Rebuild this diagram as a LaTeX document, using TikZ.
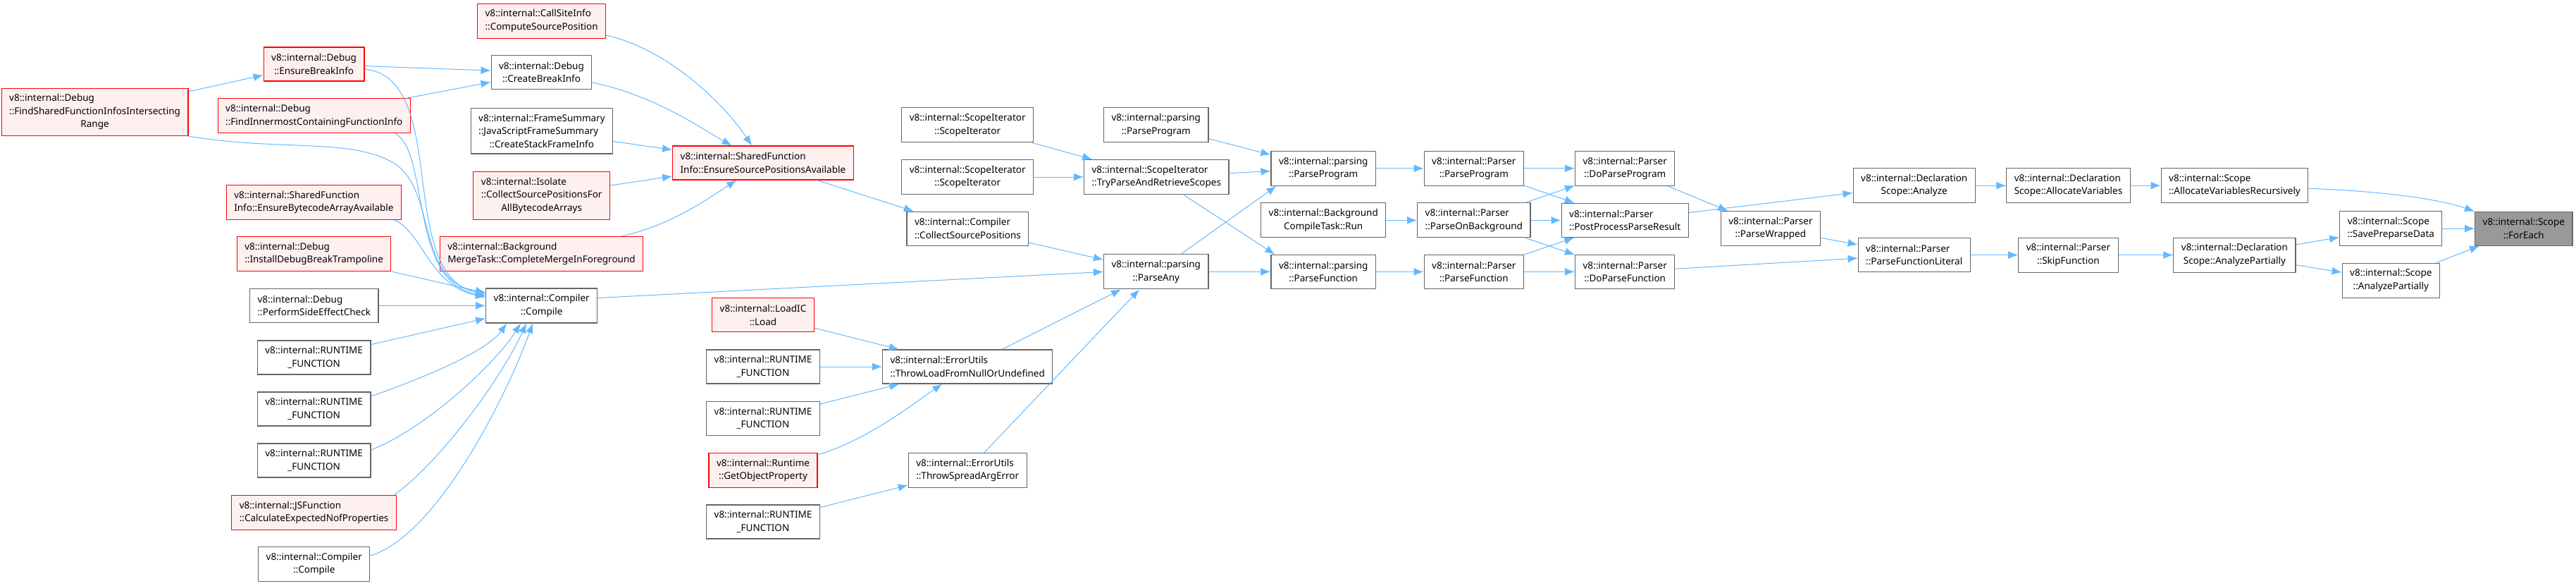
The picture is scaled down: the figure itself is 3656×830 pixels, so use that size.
\documentclass[tikz,border=0pt]{standalone}
\usepackage{fontspec}
\setmainfont{Noto Sans}
\usetikzlibrary{arrows.meta}
\definecolor{edgeblue}{HTML}{63B8FF}
\definecolor{boxgray}{HTML}{666666}
\definecolor{rootgray}{HTML}{999999}
\definecolor{cutred}{HTML}{FF0000}
\definecolor{cutfill}{HTML}{FFF0F0}
\newcommand\midline[1]{\hspace*{\fill}#1\hspace*{\fill}}
\tikzset{fn/.style={draw=boxgray,line width=1.1pt,fill=white,align=left,inner xsep=11pt,inner ysep=8.5pt,minimum height=48pt,font=\fontsize{13.5}{18.5}\selectfont},cut/.style={fn,draw=cutred,fill=cutfill},root/.style={fn,fill=rootgray},arr/.style={-{Latex[length=14pt,width=11pt]},line width=1pt,edgeblue}}

\begin{document}
\begin{tikzpicture}[x=1pt,y=-1pt]
\useasboundingbox (0,0) rectangle (3656,830);
% left part: callers of Compiler::Compile
\node[cut] (fsfi) at (134.6,158.8) {v8::internal::Debug\\::FindSharedFunctionInfosIntersecting\\\midline{Range}};
\node[cut] (ebi) at (445.6,91) {v8::internal::Debug\\\midline{::EnsureBreakInfo}};
\node[cut] (fifi) at (445.8,164.4) {v8::internal::Debug\\\midline{::FindInnermostContainingFunctionInfo}};
\node[cut] (ebaa) at (445.4,287) {v8::internal::SharedFunction\\\midline{Info::EnsureBytecodeArrayAvailable}};
\node[cut] (idbt) at (445.6,360) {v8::internal::Debug\\\midline{::InstallDebugBreakTrampoline}};
\node[fn] (psec) at (445.8,433.3) {v8::internal::Debug\\\midline{::PerformSideEffectCheck}};
\node[fn] (rtf1) at (445.6,507) {v8::internal::RUNTIME\\\midline{\_FUNCTION}};
\node[fn] (rtf2) at (445.6,580) {v8::internal::RUNTIME\\\midline{\_FUNCTION}};
\node[fn] (rtf3) at (445.6,653) {v8::internal::RUNTIME\\\midline{\_FUNCTION}};
\node[cut] (cenp) at (445.6,727) {v8::internal::JSFunction\\\midline{::CalculateExpectedNofProperties}};
\node[fn] (ccomp) at (445.8,800) {v8::internal::Compiler\\\midline{::Compile}};
\node[cut] (csip) at (768.6,29.6) {v8::internal::CallSiteInfo\\\midline{::ComputeSourcePosition}};
\node[fn] (cbi) at (768.5,102.7) {v8::internal::Debug\\\midline{::CreateBreakInfo}};
\node[fn] (csfi) at (768.9,185.8) {v8::internal::FrameSummary\\::JavaScriptFrameSummary\\\midline{::CreateStackFrameInfo}};
\node[cut] (cspa) at (768.7,277.4) {v8::internal::Isolate\\::CollectSourcePositionsFor\\\midline{AllBytecodeArrays}};
\node[cut] (cmif) at (768.5,360) {v8::internal::Background\\\midline{MergeTask::CompleteMergeInForeground}};
\node[fn] (compile) at (768.7,433.5) {v8::internal::Compiler\\\midline{::Compile}};
% middle part
\node[cut] (esp) at (1082.9,231) {v8::internal::SharedFunction\\\midline{Info::EnsureSourcePositionsAvailable}};
\node[cut] (lic) at (1083,446.8) {v8::internal::LoadIC\\\midline{::Load}};
\node[fn] (rtf4) at (1083,520) {v8::internal::RUNTIME\\\midline{\_FUNCTION}};
\node[fn] (rtf5) at (1083,593.5) {v8::internal::RUNTIME\\\midline{\_FUNCTION}};
\node[cut] (gop) at (1083,666.8) {v8::internal::Runtime\\\midline{::GetObjectProperty}};
\node[fn] (rtf6) at (1083,740) {v8::internal::RUNTIME\\\midline{\_FUNCTION}};
\node[fn] (si1) at (1373.2,177.4) {v8::internal::ScopeIterator\\\midline{::ScopeIterator}};
\node[fn] (si2) at (1373.2,251) {v8::internal::ScopeIterator\\\midline{::ScopeIterator}};
\node[fn] (csp) at (1373.4,324.2) {v8::internal::Compiler\\\midline{::CollectSourcePositions}};
\node[fn] (tlfn) at (1373.2,520) {v8::internal::ErrorUtils\\\midline{::ThrowLoadFromNullOrUndefined}};
\node[fn] (tsae) at (1373.2,666.8) {v8::internal::ErrorUtils\\\midline{::ThrowSpreadArgError}};
\node[fn] (ppa) at (1640.8,177.4) {v8::internal::parsing\\\midline{::ParseProgram}};
\node[fn] (tpars) at (1641.3,251) {v8::internal::ScopeIterator\\\midline{::TryParseAndRetrieveScopes}};
\node[fn] (pany) at (1640.8,385.4) {v8::internal::parsing\\\midline{::ParseAny}};
% parser chain
\node[fn] (ppb) at (1878.2,238.8) {v8::internal::parsing\\\midline{::ParseProgram}};
\node[fn] (bctr) at (1878.2,312.4) {v8::internal::Background\\\midline{CompileTask::Run}};
\node[fn] (pfun) at (1878.2,385.4) {v8::internal::parsing\\\midline{::ParseFunction}};
\node[fn] (prpp) at (2091.8,238.8) {v8::internal::Parser\\\midline{::ParseProgram}};
\node[fn] (pob) at (2091.8,312.4) {v8::internal::Parser\\\midline{::ParseOnBackground}};
\node[fn] (prpf) at (2091.8,385.4) {v8::internal::Parser\\\midline{::ParseFunction}};
\node[fn] (dpp) at (2306.2,238.8) {v8::internal::Parser\\\midline{::DoParseProgram}};
\node[fn] (pppr) at (2306.2,312.4) {v8::internal::Parser\\\midline{::PostProcessParseResult}};
\node[fn] (dpf) at (2306.2,385.4) {v8::internal::Parser\\\midline{::DoParseFunction}};
\node[fn] (pwrap) at (2512.9,324.2) {v8::internal::Parser\\\midline{::ParseWrapped}};
\node[fn] (dsan) at (2716.7,263.1) {v8::internal::Declaration\\\midline{Scope::Analyze}};
\node[fn] (pfl) at (2716.7,361.6) {v8::internal::Parser\\\midline{::ParseFunctionLiteral}};
\node[fn] (dsav) at (2935.5,263.1) {v8::internal::Declaration\\\midline{Scope::AllocateVariables}};
\node[fn] (skip) at (2935.4,361.6) {v8::internal::Parser\\\midline{::SkipFunction}};
\node[fn] (savr) at (3171.5,263.1) {v8::internal::Scope\\\midline{::AllocateVariablesRecursively}};
\node[fn] (dsap) at (3171.4,361.6) {v8::internal::Declaration\\\midline{Scope::AnalyzePartially}};
\node[fn] (spd) at (3393.3,324.2) {v8::internal::Scope\\\midline{::SavePreparseData}};
\node[fn] (sap) at (3393.3,397.6) {v8::internal::Scope\\\midline{::AnalyzePartially}};
\node[root] (forEach) at (3581.8,324.2) {v8::internal::Scope\\\midline{::ForEach}};
% edges into Compiler::Compile
\draw[arr] (fsfi)--(ebi); \draw[arr] (ebi)--(cbi); \draw[arr] (fifi)--(cbi);
\draw[arr] (fsfi.south east) .. controls (400,215) and (500,195) .. (560,232) .. controls (620,270) and (590,400) .. ([yshift=19pt]compile.west);
\draw[arr] ([yshift=-7pt]ebi.east) .. controls (640,110) and (560,390) .. ([yshift=16pt]compile.west);
\draw[arr] ([xshift=-22pt]fifi.south east) .. controls (610,215) and (580,400) .. ([yshift=14pt]compile.west);
\draw[arr] ([xshift=-10pt]ebaa.south east) .. controls (600,330) and (610,405) .. ([yshift=12pt]compile.west);
\draw[arr] (idbt)--(compile); \draw[arr] (psec)--(compile); \draw[arr] (rtf1)--(compile);
\draw[arr] ([yshift=18pt]rtf2.east) .. controls (590,540) and (690,500) .. ([xshift=30pt]compile.south west);
\draw[arr] ([yshift=15pt]rtf3.east) .. controls (600,610) and (700,520) .. ([xshift=50pt]compile.south west);
\draw[arr] ([xshift=-4pt]cenp.north east) .. controls (620,660) and (710,540) .. ([xshift=58pt]compile.south west);
\draw[arr] ([yshift=12pt]ccomp.east) .. controls (620,760) and (720,560) .. ([xshift=67pt]compile.south west);
% edges into EnsureSourcePositionsAvailable
\draw[arr] (csip) .. controls (950,70) and (1030,150) .. (esp);
\draw[arr] (cbi) .. controls (930,135) and (1000,185) .. (esp);
\draw[arr] (csfi)--(esp); \draw[arr] (cspa)--(esp);
\draw[arr] (cmif) .. controls (950,320) and (1000,285) .. (esp);
\draw[arr] (esp)--(csp);
\draw[arr] ([yshift=11pt]compile.east)--(pany.west);
% error utils
\draw[arr] (lic)--(tlfn); \draw[arr] (rtf4)--(tlfn); \draw[arr] (rtf5)--(tlfn);
\draw[arr] (gop) .. controls (1230,625) and (1300,570) .. (tlfn);
\draw[arr] (rtf6)--(tsae);
\draw[arr] (csp)--(pany); \draw[arr] (tlfn)--(pany); \draw[arr] (tsae)--(pany);
\draw[arr] (si1)--(tpars); \draw[arr] (si2)--(tpars);
\draw[arr] (ppa)--(ppb); \draw[arr] (tpars)--(ppb); \draw[arr] (tpars)--([xshift=6pt]pfun.north west);
\draw[arr] (pany)--([xshift=8pt]ppb.south west); \draw[arr] (pany)--(pfun);
% parser
\draw[arr] (ppb)--(prpp); \draw[arr] (bctr)--(pob); \draw[arr] (pfun)--(prpf);
\draw[arr] (prpp)--(dpp); \draw[arr] (prpp)--(pppr); \draw[arr] (pob)--(dpp); \draw[arr] (pob)--(pppr);
\draw[arr] (pob)--(dpf); \draw[arr] (prpf)--(pppr); \draw[arr] (prpf)--(dpf);
\draw[arr] (dpp)--(pwrap); \draw[arr] (pppr)--(dsan); \draw[arr] (dpf)--(pfl); \draw[arr] (pwrap)--(pfl);
\draw[arr] (dsan)--(dsav); \draw[arr] (pfl)--(skip); \draw[arr] (dsav)--(savr); \draw[arr] (skip)--(dsap);
\draw[arr] (dsap)--(spd); \draw[arr] (dsap)--(sap);
\draw[arr] (savr) .. controls (3400,272) and (3470,285) .. (forEach);
\draw[arr] (spd)--(forEach); \draw[arr] (sap)--(forEach);
\end{tikzpicture}
\end{document}
